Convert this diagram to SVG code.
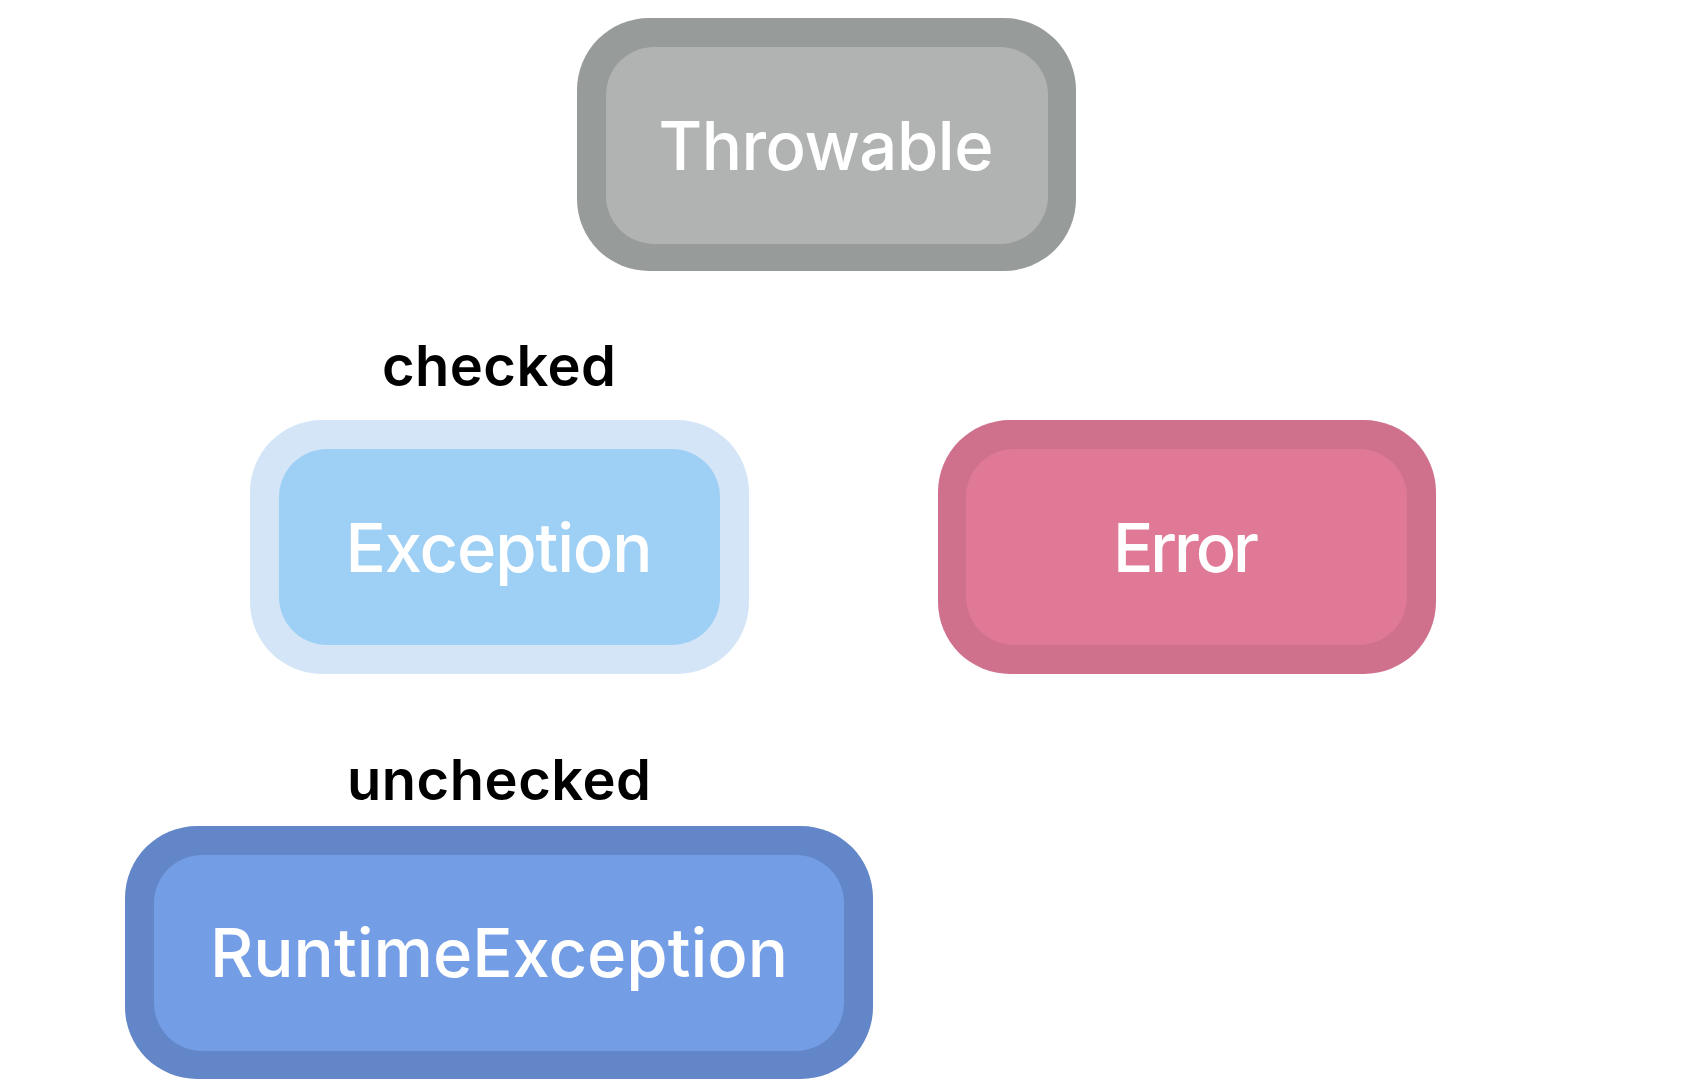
<svg xmlns="http://www.w3.org/2000/svg" width="1682" height="1090" viewBox="0 0 1682 1090">
<style>
.lbl{font-family:Inter,"Noto Sans","Liberation Sans",sans-serif;fill:#ffffff;font-weight:500;text-anchor:middle;font-size:67px}
.cap{font-family:Inter,"Noto Sans","Liberation Sans",sans-serif;fill:#000000;font-weight:600;text-anchor:middle;font-size:56px}
</style>
<rect width="1682" height="1090" fill="#ffffff"/>
<g id="connectors"></g>
<g id="throwable">
<rect x="577" y="18" width="499" height="253" rx="72" fill="#979b99"/>
<rect x="606" y="47" width="442" height="197" rx="48" fill="#b1b3b2"/>
<text class="lbl" x="826" y="170" textLength="335">Throwable</text>
</g>
<g id="exception">
<text class="cap" x="499" y="386" textLength="234">checked</text>
<rect x="250" y="420" width="499" height="254" rx="72" fill="#d3e5f7"/>
<rect x="279" y="449" width="441" height="196" rx="48" fill="#9ecff5"/>
<text class="lbl" x="499" y="572" textLength="307">Exception</text>
</g>
<g id="error">
<rect x="938" y="420" width="498" height="254" rx="72" fill="#cf718d"/>
<rect x="966" y="449" width="441" height="196" rx="48" fill="#df7996"/>
<text class="lbl" x="1186" y="572" textLength="146">Error</text>
</g>
<g id="runtimeexception">
<text class="cap" x="499" y="800" textLength="304">unchecked</text>
<rect x="125" y="826" width="748" height="253" rx="72" fill="#6286c7"/>
<rect x="154" y="855" width="690" height="196" rx="48" fill="#739de4"/>
<text class="lbl" x="499" y="977" textLength="578">RuntimeException</text>
</g>
</svg>
